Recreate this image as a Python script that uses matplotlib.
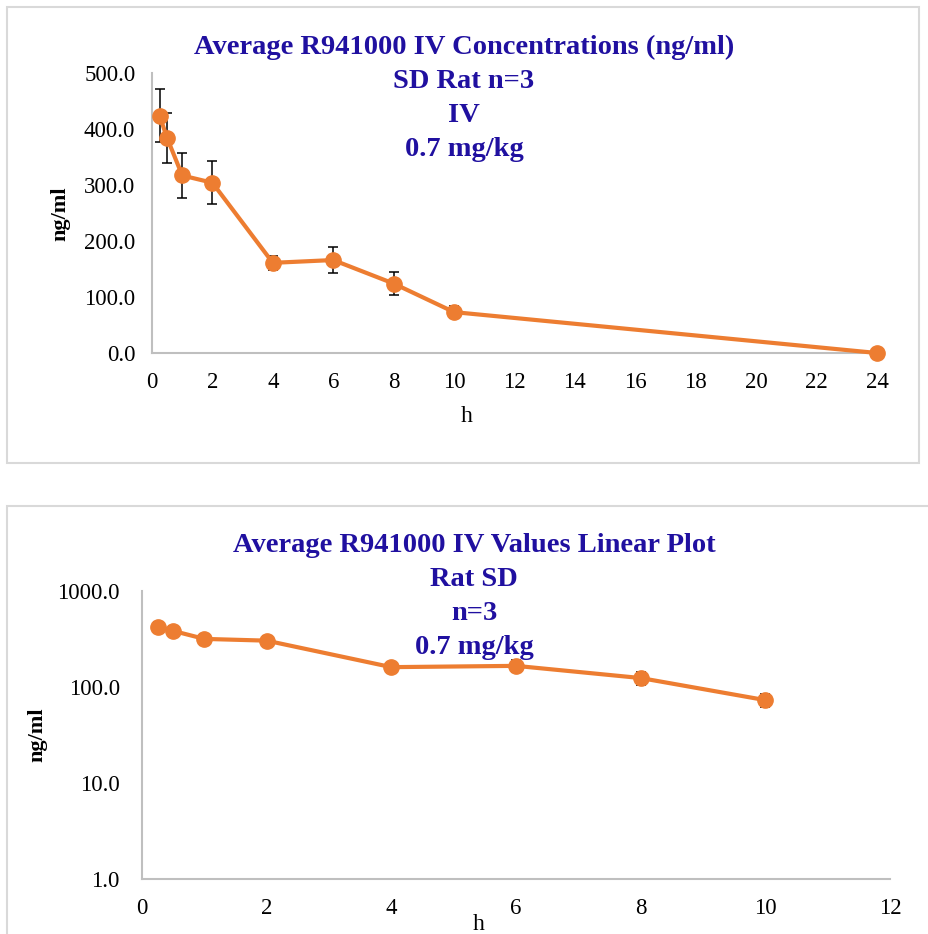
import matplotlib
matplotlib.use("Agg")
import matplotlib.pyplot as plt
from matplotlib.patches import Rectangle
from matplotlib.ticker import FormatStrFormatter, FixedLocator
import numpy as np

# ---- data ----
time_h = [0.25, 0.5, 1, 2, 4, 6, 8, 10, 24]
conc_mean = [424, 384, 317, 304, 161, 166, 124, 73, 0.0]
conc_sd = [47, 45, 40, 38, 13, 24, 20, 11, 0.0]

top_title = ["Average R941000 IV Concentrations (ng/ml)", "SD Rat n=3", "IV", "0.7 mg/kg"]
bot_title = ["Average R941000 IV Values Linear Plot", "Rat SD", "n=3", "0.7 mg/kg"]
top_xticks = list(range(0, 25, 2))
top_yticks = [0, 100, 200, 300, 400, 500]
bot_xticks = list(range(0, 13, 2))
bot_yticks = [1, 10, 100, 1000]

ORANGE = "#ED7D31"
TITLE_C = "#2010A0"
AXIS_C = "#BFBFBF"
BOX_C = "#D9D9D9"

plt.rcParams['font.family'] = ['Liberation Serif', 'DejaVu Serif']

W, H = 929, 934
fig = plt.figure(figsize=(W / 100, H / 100), dpi=100)

def fx(px):
    return px / W

def fy(py):
    return 1 - py / H

# chart boxes
fig.patches.append(Rectangle((fx(7), fy(463)), fx(912), 456 / H, transform=fig.transFigure,
                             fill=False, edgecolor=BOX_C, linewidth=1.5))
fig.patches.append(Rectangle((fx(7), fy(940)), fx(940), 434 / H, transform=fig.transFigure,
                             fill=False, edgecolor=BOX_C, linewidth=1.5))

TICK_FS = 16.5

def style(ax, ypad):
    for s in ['top', 'right']:
        ax.spines[s].set_visible(False)
    for s in ['left', 'bottom']:
        ax.spines[s].set_color(AXIS_C)
        ax.spines[s].set_linewidth(1.5)
    ax.tick_params(axis='both', length=0, labelsize=TICK_FS, colors='black')
    ax.tick_params(axis='y', pad=ypad)
    ax.tick_params(axis='x', pad=14)
    ax.tick_params(axis='y', which='minor', length=0)

def draw(ax, t, m, sd):
    ax.errorbar(t, m, yerr=sd, fmt='none', ecolor='black', elinewidth=1.1,
                capsize=3.3, capthick=1.1, zorder=2)
    ax.plot(t, m, color=ORANGE, linewidth=3, marker='o', markersize=11,
            zorder=3, clip_on=False)

# ---- top chart ----
ax1 = fig.add_axes([fx(152), fy(353), (877 - 152) / W, (353 - 73) / H])
draw(ax1, time_h, conc_mean, conc_sd)
ax1.set_xlim(0, 24)
ax1.set_ylim(0, 500)
ax1.set_xticks(top_xticks)
ax1.set_yticks(top_yticks)
ax1.yaxis.set_major_formatter(FormatStrFormatter('%.1f'))
style(ax1, 12)
ax1.set_xlabel('h', fontsize=17)
ax1.xaxis.label.set_va('center')
ax1.xaxis.set_label_coords(0.434, -0.225)
ax1.set_ylabel('ng/ml', fontsize=16, fontweight='bold')
ax1.yaxis.label.set_va('center')
ax1.yaxis.set_label_coords(-0.127, 0.496)

for i, line in enumerate(top_title):
    fig.text(fx(464), fy(47 + 34 * i), line, ha='center', va='center',
             fontsize=20.5, fontweight='bold', color=TITLE_C)

# ---- bottom chart (log) ----
bt = [t for t in time_h if t <= 12]
bm = [conc_mean[i] for i, t in enumerate(time_h) if t <= 12]
bs = [conc_sd[i] for i, t in enumerate(time_h) if t <= 12]
ax2 = fig.add_axes([fx(142), fy(879), (890 - 142) / W, (879 - 591) / H])
draw(ax2, bt, bm, bs)
ax2.set_yscale('log')
ax2.set_xlim(0, 12)
ax2.set_ylim(1, 1000)
ax2.set_xticks(bot_xticks)
ax2.yaxis.set_major_locator(FixedLocator(bot_yticks))
ax2.yaxis.set_minor_locator(FixedLocator([]))
ax2.yaxis.set_major_formatter(FormatStrFormatter('%.1f'))
style(ax2, 16)
ax2.set_xlabel('h', fontsize=17)
ax2.xaxis.label.set_va('center')
ax2.xaxis.set_label_coords(0.45, -0.158)
ax2.set_ylabel('ng/ml', fontsize=16, fontweight='bold')
ax2.yaxis.label.set_va('center')
ax2.yaxis.set_label_coords(-0.140, 0.5)

for i, line in enumerate(bot_title):
    fig.text(fx(474), fy(545 + 34 * i), line, ha='center', va='center',
             fontsize=20.5, fontweight='bold', color=TITLE_C)

fig.savefig('out.png', dpi=100)
